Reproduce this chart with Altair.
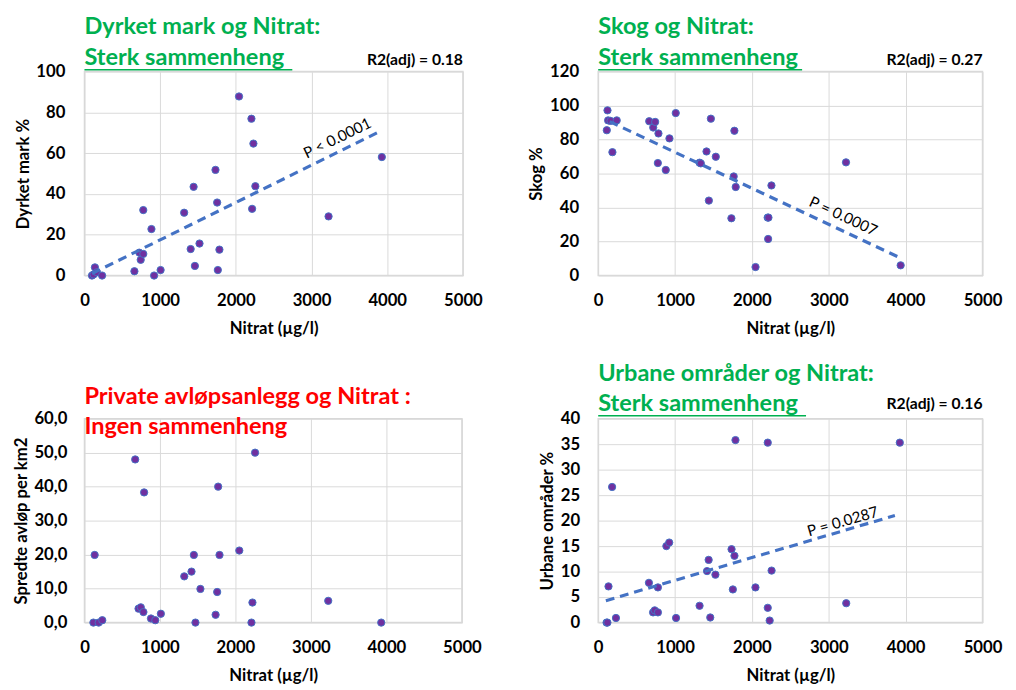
import altair as alt
import pandas as pd

# ---------------- data ----------------
# Panel 1: Dyrket mark %
x_dyrket = [99, 120, 138, 164, 233, 660, 725, 743, 777, 777, 885, 920, 1006, 1317, 1403,
            1442, 1459, 1520, 1731, 1753, 1762, 1783, 2042, 2206, 2215, 2232, 2258, 3225, 3929]
y_dyrket = [0, 0.5, 4, 1.6, 0, 2.1, 11.2, 7.7, 10.6, 32.1, 22.8, 0, 2.7, 30.8, 13.0,
            43.5, 4.7, 15.7, 51.8, 35.8, 2.7, 12.7, 87.8, 76.9, 32.7, 64.7, 43.8, 29.0, 58.1]
trend_dyrket_x = [100, 3900]
trend_dyrket_y = [1.0, 70.6]

# Panel 2: Skog %
x_skog = [112, 121, 129, 160, 185, 241, 664, 716, 741, 776, 784, 879, 927, 1009, 1319, 1335,
          1409, 1440, 1466, 1530, 1733, 1763, 1772, 1789, 2047, 2205, 2215, 2211, 2254, 3224, 3935]
y_skog = [85.5, 97.2, 91.3, 91.0, 72.6, 91.3, 90.8, 87.1, 90.4, 66.2, 83.6, 62.1, 80.7, 95.6, 66.4, 66.0,
          73.0, 44.1, 92.3, 69.9, 33.7, 58.3, 85.2, 52.1, 5.0, 34.1, 34.1, 21.5, 53.0, 66.6, 6.0]
trend_skog_x = [150, 3920]
trend_skog_y = [90.6, 10.6]

# Panel 3: Spredte avløp per km2
x_avlop = [118, 135, 188, 236, 672, 716, 746, 781, 790, 881, 938, 1012, 1322, 1418, 1449,
           1470, 1536, 1737, 1758, 1771, 1789, 2051, 2212, 2225, 2260, 3229, 3931]
y_avlop = [0, 19.9, 0, 0.7, 48.0, 4.1, 4.5, 3.1, 38.3, 1.2, 0.7, 2.6, 13.6, 15.0, 19.9,
           0, 9.9, 2.3, 9.0, 40.0, 19.9, 21.2, 0, 5.9, 50.0, 6.4, 0]

# Panel 4: Urbane områder %
x_urban = [109, 120, 134, 181, 231, 660, 714, 735, 777, 777, 887, 924, 1013, 1319, 1416, 1437,
           1458, 1525, 1735, 1752, 1773, 1786, 2046, 2206, 2206, 2231, 2256, 3227, 3924]
y_urban = [0, 0, 7.1, 26.6, 0.9, 7.8, 2.0, 2.4, 2.0, 6.9, 15.0, 15.7, 0.9, 3.3, 10.1, 12.3,
           1.0, 9.4, 14.4, 6.5, 13.1, 35.8, 6.9, 35.3, 2.9, 0.4, 10.2, 3.8, 35.3]
trend_urban_x = [100, 3860]
trend_urban_y = [4.3, 21.0]

x_ticks = [0, 1000, 2000, 3000, 4000, 5000]

GREEN = "#00B050"
RED = "#FF0000"
GRID = "#d9d9d9"
FONT = "Lato"
TITLE_SIZE = 24


def panel(xs, ys, ydom, ystep, ytitle, w, h, title1, title2, color,
          t1y, t2y, underline=None, r2=None, r2y=-12,
          tx=None, ty=None, ptext=None, pxy=None, pangle=0, comma=False,
          ytitlepad=4, ylabpad=20):
    df = pd.DataFrame({"x": xs, "y": ys})
    yvals = list(range(ydom[0], ydom[1] + 1, ystep))
    yargs = dict(values=yvals, title=ytitle, grid=True, gridColor=GRID, domain=False,
                 ticks=False, tickSize=0, labelFont=FONT, labelFontWeight="bold",
                 labelFontSize=17, labelColor="#000", labelPadding=ylabpad,
                 labelOverlap=False,
                 titleFont=FONT, titleFontSize=17, titleFontWeight="bold",
                 titleColor="#000", titlePadding=ytitlepad)
    if comma:
        yargs["labelExpr"] = "replace(format(datum.value, '.1f'), '.', ',')"
    else:
        yargs["format"] = "d"
    yaxis = alt.Axis(**yargs)
    xaxis = alt.Axis(values=x_ticks, title="Nitrat (µg/l)", grid=True, gridColor=GRID,
                     domain=False, ticks=False, tickSize=0, labelFont=FONT, format="d",
                     labelFontWeight="bold", labelFontSize=17, labelColor="#000",
                     labelPadding=18, labelFlush=False, labelOverlap=False,
                     titleFont=FONT, titleFontSize=17,
                     titleFontWeight="bold", titleColor="#000", titlePadding=12)
    xs_ = alt.Scale(domain=[0, 5000], nice=False, zero=True)
    ys_ = alt.Scale(domain=list(ydom), nice=False, zero=True)
    X = alt.X("x:Q", scale=xs_, axis=xaxis)
    Y = alt.Y("y:Q", scale=ys_, axis=yaxis)

    pts = alt.Chart(df).mark_circle(size=55, color="#7030A0", opacity=1,
                                    stroke="#4472C4", strokeWidth=1).encode(x=X, y=Y)
    layers = [pts]
    if tx is not None:
        tdf = pd.DataFrame({"x": tx, "y": ty})
        line = alt.Chart(tdf).mark_line(color="#4472C4", strokeWidth=3.2,
                                        strokeDash=[9, 6]).encode(x=X, y=Y)
        layers.append(line)
    if ptext is not None:
        pdf = pd.DataFrame({"x": [pxy[0]], "y": [pxy[1]], "t": [ptext]})
        ptxt = alt.Chart(pdf).mark_text(font=FONT, fontSize=15.5, color="#000",
                                        angle=pangle, align="center",
                                        baseline="middle").encode(x=X, y=Y, text="t:N")
        layers.append(ptxt)

    one = pd.DataFrame({"a": [0]})
    layers.append(alt.Chart(one).mark_text(text=title1, font=FONT, fontSize=TITLE_SIZE,
                                           fontWeight="bold", color=color, align="left",
                                           baseline="middle").encode(
        x=alt.value(0), y=alt.value(t1y)))
    layers.append(alt.Chart(one).mark_text(text=title2, font=FONT, fontSize=TITLE_SIZE,
                                           fontWeight="bold", color=color, align="left",
                                           baseline="middle").encode(
        x=alt.value(0), y=alt.value(t2y)))
    if underline is not None:
        layers.append(alt.Chart(one).mark_rule(color=color, strokeWidth=1.5).encode(
            x=alt.value(0), x2=alt.value(underline), y=alt.value(t2y + 12)))
    if r2 is not None:
        layers.append(alt.Chart(one).mark_text(text=r2, font=FONT, fontSize=16,
                                               fontWeight="bold", color="#000",
                                               align="right", baseline="middle").encode(
            x=alt.value(w), y=alt.value(r2y)))
    return alt.layer(*layers).properties(width=w, height=h)


p1 = panel(x_dyrket, y_dyrket, (0, 100), 20, "Dyrket mark %", 386, 208,
           "Dyrket mark og Nitrat:", "Sterk sammenheng", GREEN, -45, -14,
           underline=212, r2="R2(adj) = 0.18",
           tx=trend_dyrket_x, ty=trend_dyrket_y, ptext="P < 0.0001",
           pxy=(3342, 67.3), pangle=334)
p2 = panel(x_skog, y_skog, (0, 120), 20, "Skog %", 392, 208,
           "Skog og Nitrat:", "Sterk sammenheng", GREEN, -45, -14,
           underline=208, r2="R2(adj) = 0.27",
           tx=trend_skog_x, ty=trend_skog_y, ptext="P = 0.0007",
           pxy=(3187, 34.8), pangle=25)
p3 = panel(x_avlop, y_avlop, (0, 60), 10, "Spredte avløp per km2", 385, 208,
           "Private avløpsanlegg og Nitrat :", "Ingen sammenheng", RED, -22, 9,
           comma=True, ylabpad=18)
p4 = panel(x_urban, y_urban, (0, 40), 5, "Urbane områder %", 392, 208,
           "Urbane områder og Nitrat:", "Sterk sammenheng", GREEN, -45, -15,
           underline=212, r2="R2(adj) = 0.16", r2y=-15,
           tx=trend_urban_x, ty=trend_urban_y, ptext="P = 0.0287",
           pxy=(3182, 19.8), pangle=344, ylabpad=19)

chart = alt.concat(p1, p2, p3, p4, columns=2,
                   spacing={"row": 146, "column": 138}).properties(
    bounds="flush", align="none", padding={"left": 3, "top": 0, "right": 5, "bottom": 5},
    background="white"
).configure_view(stroke=GRID, strokeWidth=1.5)

chart.save("out.html", embed_options={"renderer": "svg", "actions": False})
